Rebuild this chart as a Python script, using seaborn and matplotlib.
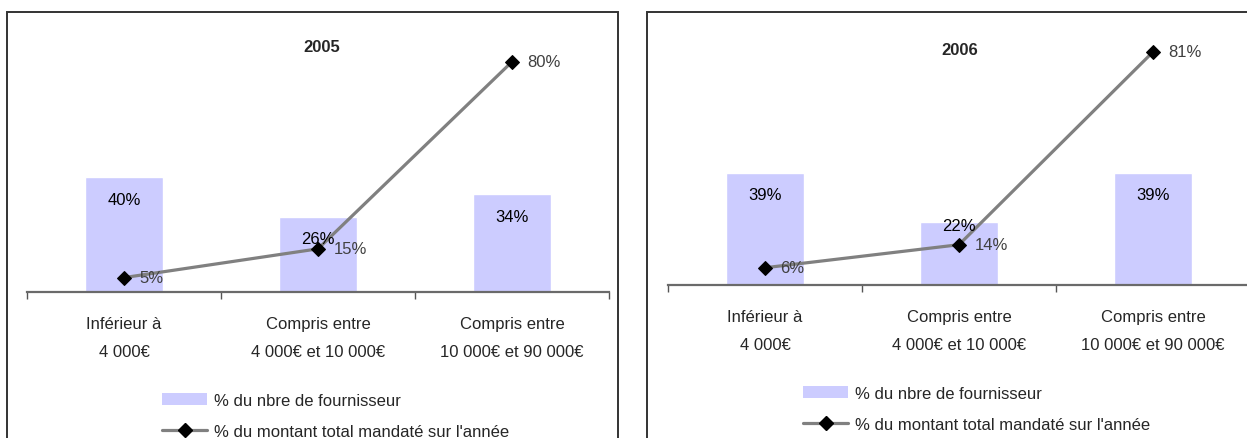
import matplotlib
matplotlib.use("Agg")
import matplotlib.pyplot as plt
from matplotlib.patches import Rectangle
from matplotlib.lines import Line2D
from matplotlib.patches import Patch
import seaborn as sns

# data
categories = ["Inférieur à\n4 000€", "Compris entre\n4 000€ et 10 000€", "Compris entre\n10 000€ et 90 000€"]
years = ["2005", "2006"]
pct_fournisseurs_2005 = [40, 26, 34]
pct_montant_2005 = [5, 15, 80]
pct_fournisseurs_2006 = [39, 22, 39]
pct_montant_2006 = [6, 14, 81]

bar_label = "% du nbre de fournisseur"
line_label = "% du montant total mandaté sur l'année"

sns.set_style("white")
plt.rcParams['font.family'] = ['Liberation Sans Narrow', 'Liberation Sans', 'DejaVu Sans']
FS = 12

bar_color = "#CCCCFF"
line_color = "#808080"

fig = plt.figure(figsize=(12.47, 4.39), dpi=100)
W, H = 1247, 439

# panel frames (px) : left, top, right ; frames run off the canvas at the bottom/right
frames = [(7, 13, 618), (647, 13, 1300)]
for l, t, r in frames:
    fig.patches.append(Rectangle((l / W, -0.2), (r - l) / W, 1 - t / H + 0.2,
                                 transform=fig.transFigure, fill=False,
                                 edgecolor="#333333", lw=1.4))

# axes placements in px: left, axis-line y, title position in axes fraction
panels = [(27, 293, 0.507, 0.946), (668, 286, 0.502, 0.911)]
data = [(pct_fournisseurs_2005, pct_montant_2005), (pct_fournisseurs_2006, pct_montant_2006)]
# vertical offset (pt) of the bar value labels, Excel pushed one up to dodge the line
bar_label_dy = [[-16, -15, -16], [-16, -3, -16]]

for (left, base, tx, ty), year, (bars, line), dys in zip(panels, years, data, bar_label_dy):
    ax = fig.add_axes([left / W, 1 - base / H, 582 / W, 259 / H])
    sns.barplot(x=categories, y=bars, color=bar_color, width=0.4, saturation=1,
                ax=ax, zorder=2)
    sns.lineplot(x=categories, y=line, color=line_color, lw=2.3, marker="D",
                 markersize=7, markerfacecolor="black", markeredgecolor="black",
                 ax=ax, zorder=3, sort=False)
    for i, (v, dy) in enumerate(zip(bars, dys)):
        ax.annotate(f"{v}%", (i, v), xytext=(0, dy), textcoords="offset points",
                    ha="center", va="center", fontsize=FS, color="black", zorder=4)
    for i, v in enumerate(line):
        ax.annotate(f"{v}%", (i, v), xytext=(11, 0), textcoords="offset points",
                    ha="left", va="center", fontsize=FS, color="#404040", zorder=4)
    ax.text(tx, ty, year, transform=ax.transAxes, ha="center", va="center",
            fontsize=FS, fontweight="bold")

    ax.set_xlim(-0.5, 2.5)
    ax.set_ylim(0, 90)
    ax.set_yticks([])
    ax.set_xticks([-0.5, 0.5, 1.5, 2.5])
    ax.set_xticklabels([])
    ax.set_xticks([0, 1, 2], minor=True)
    ax.set_xticklabels(categories, minor=True, fontsize=FS, linespacing=2.15)
    ax.tick_params(axis="x", which="major", direction="out", length=5, width=1,
                   color="#555555", bottom=True)
    ax.tick_params(axis="x", which="minor", length=0, pad=17)
    for s in ["left", "right", "top"]:
        ax.spines[s].set_visible(False)
    ax.spines["bottom"].set_color("#6a6a6a")
    ax.spines["bottom"].set_linewidth(1.6)
    ax.set_xlabel("")
    ax.set_ylabel("")
    if ax.get_legend():
        ax.get_legend().remove()

    handles = [Patch(facecolor=bar_color, edgecolor="none"),
               Line2D([], [], color=line_color, lw=2.3, marker="D", markersize=7,
                      markerfacecolor="black", markeredgecolor="black")]
    ax.legend(handles, [bar_label, line_label], loc="upper left",
              bbox_to_anchor=(0.232, -0.39), frameon=False, fontsize=FS,
              handlelength=2.7, handletextpad=0.4, labelspacing=0.95,
              borderpad=0, borderaxespad=0)

fig.savefig("out.png", dpi=100)
